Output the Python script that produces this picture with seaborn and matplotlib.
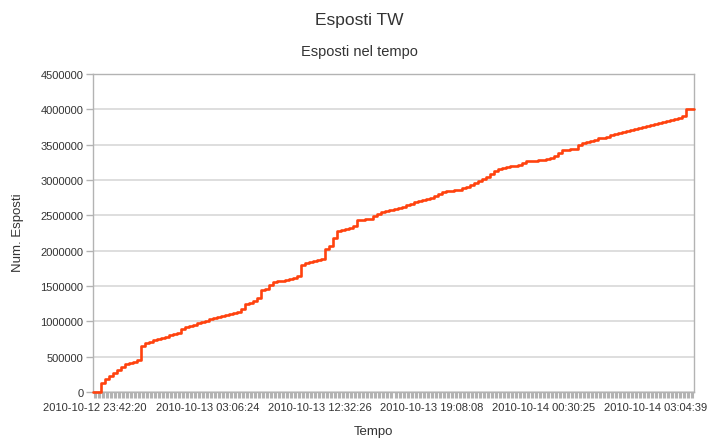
import numpy as np
import pandas as pd
import matplotlib
matplotlib.use("Agg")
import matplotlib.pyplot as plt
import seaborn as sns

# labels shown under the axis, one every 28 samples
time_labels = ["2010-10-12 23:42:20", "2010-10-13 03:06:24", "2010-10-13 12:32:26",
               "2010-10-13 19:08:08", "2010-10-14 00:30:25", "2010-10-14 03:04:39"]
label_step = 28

# cumulative "esposti", in thousands (150 samples)
esposti_k = [
    0, 0, 130, 180, 230, 275, 315, 355, 390, 410,
    430, 450, 655, 690, 712, 735, 755, 770, 785, 800,
    820, 840, 890, 915, 932, 950, 972, 990, 1008, 1027,
    1045, 1062, 1075, 1087, 1098, 1115, 1135, 1175, 1245, 1260,
    1285, 1330, 1440, 1462, 1510, 1555, 1568, 1575, 1585, 1600,
    1620, 1645, 1800, 1830, 1842, 1855, 1865, 1885, 2025, 2060,
    2180, 2273, 2295, 2312, 2325, 2345, 2435, 2440, 2445, 2455,
    2490, 2520, 2550, 2566, 2580, 2595, 2610, 2625, 2645, 2665,
    2685, 2703, 2720, 2735, 2750, 2772, 2798, 2825, 2840, 2846,
    2854, 2865, 2880, 2896, 2925, 2960, 2990, 3012, 3040, 3090,
    3132, 3152, 3168, 3180, 3192, 3202, 3214, 3240, 3262, 3268,
    3275, 3282, 3290, 3300, 3312, 3340, 3385, 3418, 3425, 3432,
    3440, 3495, 3520, 3542, 3556, 3572, 3588, 3600, 3615, 3632,
    3652, 3672, 3685, 3696, 3706, 3717, 3730, 3745, 3765, 3782,
    3795, 3812, 3825, 3833, 3842, 3858, 3873, 3905, 4000, 4000,
]

y_ticks = [0, 500000, 1000000, 1500000, 2000000, 2500000, 3000000, 3500000, 4000000, 4500000]

sns.set_style("white")
plt.rcParams["font.family"] = ["Liberation Sans", "DejaVu Sans"]

n = len(esposti_k)
esposti = [v * 1000 for v in esposti_k]
# repeat the last value so the final step reaches the right edge
df = pd.DataFrame({"pos": np.arange(n + 1), "esposti": esposti + [esposti[-1]]})

txt = "#333333"
grey = "#b3b3b3"

fig = plt.figure(figsize=(7.08, 4.39), dpi=100)
ax = fig.add_axes([93 / 708, 1 - 393 / 439, 601 / 708, 318 / 439])

sns.lineplot(data=df, x="pos", y="esposti", ax=ax, color="#ff420e",
             linewidth=1.9, drawstyle="steps-post", errorbar=None)
for ln in ax.lines:
    ln.set_clip_on(False)
    ln.set_zorder(5)

ax.set_xlim(0, n)
ax.set_ylim(0, 4500000)
ax.set_yticks(y_ticks, labels=[str(t) for t in y_ticks])

tick_text = [""] * n
for k, lab in enumerate(time_labels):
    tick_text[k * label_step] = lab
ax.set_xticks(np.arange(n) + 0.5, labels=tick_text)

ax.yaxis.grid(True, color="#d4d4d4", linewidth=1.1)
ax.set_axisbelow(True)
for s in ax.spines.values():
    s.set_color(grey)
    s.set_linewidth(1.0)

ax.tick_params(axis="x", bottom=True, direction="out", length=4, width=2.2, color=grey,
               labelsize=8, labelcolor=txt, pad=3)
ax.tick_params(axis="y", left=True, direction="out", length=5, width=1.0, color=grey,
               labelsize=8, labelcolor=txt, pad=2)
ax.set_xlabel("")
ax.set_ylabel("")

fig.text(0.508, 1 - 20 / 439, "Esposti TW", ha="center", va="center", fontsize=12.5, color=txt)
fig.text(0.508, 1 - 52 / 439, "Esposti nel tempo", ha="center", va="center", fontsize=10.5, color=txt)
fig.text(18 / 708, 1 - 233 / 439, "Num. Esposti", ha="center", va="center", rotation=90,
         fontsize=9.5, color=txt)
fig.text(373 / 708, 1 - 432 / 439, "Tempo", ha="center", va="center", fontsize=9.5, color=txt)

fig.savefig("out.png", dpi=100)
